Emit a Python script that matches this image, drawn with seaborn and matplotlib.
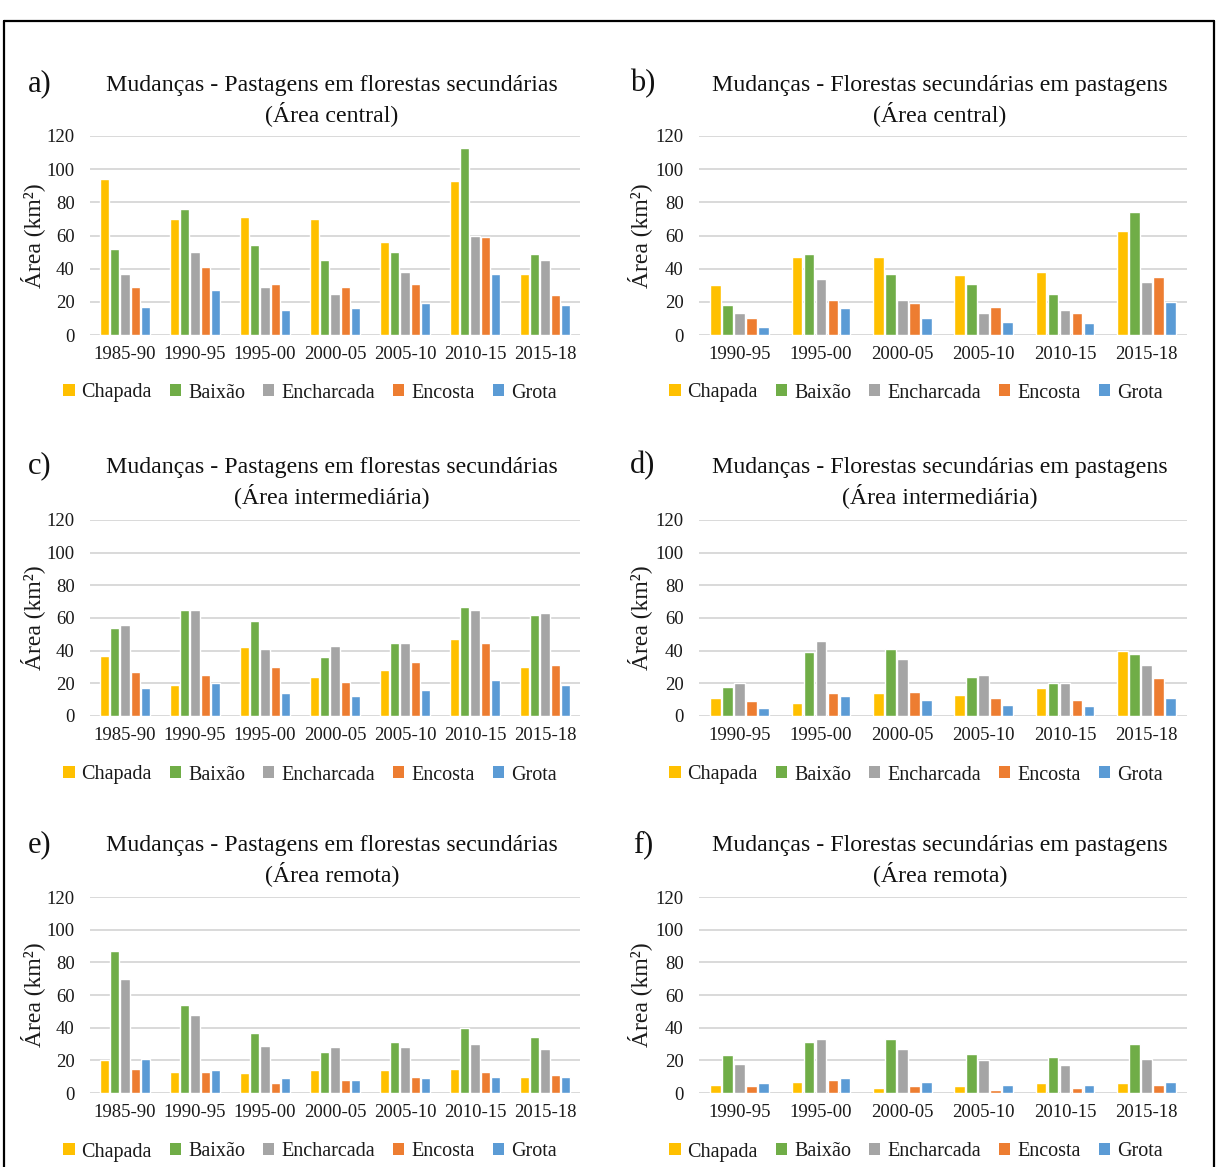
import numpy as np
import pandas as pd
import matplotlib
matplotlib.use("Agg")
import matplotlib.pyplot as plt
from matplotlib.patches import Patch
from matplotlib.lines import Line2D
import seaborn as sns

sns.set_style("white")
plt.rcParams["font.family"] = ["Liberation Serif", "DejaVu Serif"]

# Land-form classes and their colours
classes = ["Chapada", "Baixão", "Encharcada", "Encosta", "Grota"]
colors = ["#FFC000", "#70AD47", "#A5A5A5", "#ED7D31", "#5B9BD5"]

periods_long = ["1985-90", "1990-95", "1995-00", "2000-05", "2005-10", "2010-15", "2015-18"]
periods_short = ["1990-95", "1995-00", "2000-05", "2005-10", "2010-15", "2015-18"]

# a) Pastagens -> florestas secundárias, área central (one list per class)
a_chapada = [94, 70, 71, 70, 56, 93, 37]
a_baixao = [52, 76, 54, 45, 50, 113, 49]
a_encharcada = [37, 50, 29, 25, 38, 60, 45]
a_encosta = [29, 41, 31, 29, 31, 59, 24]
a_grota = [17, 27, 15, 16, 19, 37, 18]

# b) Florestas secundárias -> pastagens, área central
b_chapada = [30, 47, 47, 36, 38, 63]
b_baixao = [18, 49, 37, 31, 25, 74]
b_encharcada = [13, 34, 21, 13, 15, 32]
b_encosta = [10, 21, 19, 17, 13, 35]
b_grota = [5, 16, 10, 8, 7, 20]

# c) Pastagens -> florestas secundárias, área intermediária
c_chapada = [37, 19, 42, 24, 28, 47, 30]
c_baixao = [54, 65, 58, 36, 45, 67, 62]
c_encharcada = [56, 65, 41, 43, 45, 65, 63]
c_encosta = [27, 25, 30, 21, 33, 45, 31]
c_grota = [17, 20, 14, 12, 16, 22, 19]

# d) Florestas secundárias -> pastagens, área intermediária
d_chapada = [11, 8, 14, 13, 17, 40]
d_baixao = [18, 39, 41, 24, 20, 38]
d_encharcada = [20, 46, 35, 25, 20, 31]
d_encosta = [9, 14, 15, 11, 10, 23]
d_grota = [5, 12, 10, 7, 6, 11]

# e) Pastagens -> florestas secundárias, área remota
e_chapada = [20, 13, 12, 14, 14, 15, 10]
e_baixao = [87, 54, 37, 25, 31, 40, 34]
e_encharcada = [70, 48, 29, 28, 28, 30, 27]
e_encosta = [15, 13, 6, 8, 10, 13, 11]
e_grota = [21, 14, 9, 8, 9, 10, 10]

# f) Florestas secundárias -> pastagens, área remota
f_chapada = [5, 7, 3, 4, 6, 6]
f_baixao = [23, 31, 33, 24, 22, 30]
f_encharcada = [18, 33, 27, 20, 17, 21]
f_encosta = [4, 8, 4, 2, 3, 5]
f_grota = [6, 9, 7, 5, 5, 7]

y_ticks = [0, 20, 40, 60, 80, 100, 120]

title_pf = "Mudanças - Pastagens em florestas secundárias"
title_fp = "Mudanças - Florestas secundárias em pastagens"

panels = [
    ("a)", title_pf, "(Área central)", periods_long,
     [a_chapada, a_baixao, a_encharcada, a_encosta, a_grota]),
    ("b)", title_fp, "(Área central)", periods_short,
     [b_chapada, b_baixao, b_encharcada, b_encosta, b_grota]),
    ("c)", title_pf, "(Área intermediária)", periods_long,
     [c_chapada, c_baixao, c_encharcada, c_encosta, c_grota]),
    ("d)", title_fp, "(Área intermediária)", periods_short,
     [d_chapada, d_baixao, d_encharcada, d_encosta, d_grota]),
    ("e)", title_pf, "(Área remota)", periods_long,
     [e_chapada, e_baixao, e_encharcada, e_encosta, e_grota]),
    ("f)", title_fp, "(Área remota)", periods_short,
     [f_chapada, f_baixao, f_encharcada, f_encosta, f_grota]),
]

W, H = 1217, 1167
fig = plt.figure(figsize=(W / 100, H / 100), dpi=100)


def fx(px):
    return px / W


def fy(py):
    return 1 - py / H


# pixel geometry of each row / column
cols = [dict(left=90, right=580, letter_x=40, ylab_x=33, legend_cx=310),
        dict(left=699, right=1187, letter_x=643, ylab_x=640, legend_cx=916)]
rows = [dict(top=136, bottom=335, t1=86, t2=114, letter_y=84, legend_y=393),
        dict(top=520, bottom=716, t1=468, t2=496, letter_y=466, legend_y=775),
        dict(top=897, bottom=1093, t1=846, t2=874, letter_y=845, legend_y=1152)]

tick_fs = 13.5
legend_fs = 14.5
title_fs = 17.2

for i, (letter, t1, t2, periods, series) in enumerate(panels):
    r = rows[i // 2]
    c = cols[i % 2]
    ax = fig.add_axes([fx(c["left"]), fy(r["bottom"]),
                       fx(c["right"] - c["left"]), (r["bottom"] - r["top"]) / H])

    df = pd.DataFrame({
        "periodo": np.repeat(periods, len(classes)),
        "classe": classes * len(periods),
        "area": [series[k][j] for j in range(len(periods)) for k in range(len(classes))],
    })
    ax.set_axisbelow(True)
    for yv in y_ticks:
        ax.axhline(yv, color="#D9D9D9", lw=1.4, zorder=0)
    sns.barplot(data=df, x="periodo", y="area", hue="classe", order=periods,
                hue_order=classes, palette=colors, saturation=1, width=0.74,
                gap=0.1, legend=False, ax=ax, zorder=2)

    ax.set_ylim(0, 120)
    ax.set_yticks(y_ticks)
    ax.set_xlim(-0.5, len(periods) - 0.5)
    for s in ax.spines.values():
        s.set_visible(False)
    ax.tick_params(axis="both", length=0, labelsize=tick_fs, colors="#1a1a1a")
    ax.tick_params(axis="y", pad=11)
    ax.tick_params(axis="x", pad=8)
    ax.set_xlabel("")
    ax.set_ylabel("")

    # rotated axis label
    fig.text(fx(c["ylab_x"]), fy((r["top"] + r["bottom"]) / 2), "Área (km²)",
             rotation=90, ha="center", va="center", fontsize=17, color="#1a1a1a")

    # panel letter and two-line title
    cx = (c["left"] + c["right"]) / 2
    fig.text(fx(c["letter_x"]), fy(r["letter_y"]), letter, ha="center", va="center",
             fontsize=22, color="#111111")
    fig.text(fx(cx - 3), fy(r["t1"]), t1, ha="center", va="center",
             fontsize=title_fs, color="#111111")
    fig.text(fx(cx - 3), fy(r["t2"]), t2, ha="center", va="center",
             fontsize=title_fs, color="#111111")

    handles = [Patch(facecolor=col, edgecolor="none", label=lab)
               for lab, col in zip(classes, colors)]
    ax.legend(handles=handles, loc="center",
              bbox_to_anchor=(fx(c["legend_cx"]), fy(r["legend_y"])),
              bbox_transform=fig.transFigure, ncol=5, frameon=False,
              fontsize=legend_fs, handlelength=0.55, handleheight=0.55,
              handletextpad=0.35, columnspacing=0.9, labelcolor="#1a1a1a")

# surrounding frame
lw = 1.6
fig.add_artist(Line2D([fx(4), fx(1214)], [fy(21), fy(21)], color="black", lw=lw))
fig.add_artist(Line2D([fx(4), fx(4)], [fy(21), 0], color="black", lw=lw))
fig.add_artist(Line2D([fx(1214), fx(1214)], [fy(21), 0], color="black", lw=lw))

fig.savefig("out.png", dpi=100)
